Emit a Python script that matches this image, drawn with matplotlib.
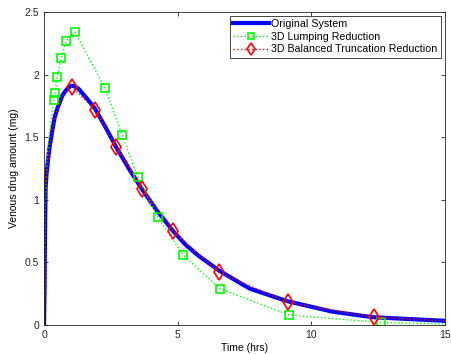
import matplotlib
matplotlib.use("Agg")
import matplotlib.pyplot as plt

plt.rcParams["font.family"] = ["Liberation Sans", "DejaVu Sans"]
plt.rcParams["font.size"] = 7.5

# original system (full model)
t_orig = [0, 0.02, 0.04, 0.06, 0.1, 0.15, 0.2, 0.27, 0.33, 0.4, 0.5, 0.59, 0.68,
          0.77, 0.88, 1.0, 1.1, 1.2, 1.3, 1.4, 1.6, 1.9, 2.3, 2.7, 3.2, 3.65,
          4.2, 4.83, 5.3, 5.8, 6.58, 7.7, 9.1, 10.8, 12.3, 15.0]
y_orig = [0, 0.3, 0.8, 1.1, 1.22, 1.32, 1.41, 1.50, 1.58, 1.66, 1.73, 1.78, 1.83,
          1.86, 1.89, 1.91, 1.91, 1.90, 1.885, 1.86, 1.81, 1.73, 1.58, 1.42,
          1.24, 1.09, 0.92, 0.75, 0.64, 0.55, 0.43, 0.29, 0.19, 0.106, 0.062,
          0.033]

# 3D lumping reduction (first points unmarked)
t_lump = [0, 0.02, 0.05, 0.12, 0.25, 0.37, 0.41, 0.49, 0.64, 0.82, 1.16, 2.28,
          2.92, 3.51, 4.26, 5.20, 6.58, 9.16, 12.6, 15.0]
y_lump = [0, 0.3, 0.95, 1.35, 1.62, 1.80, 1.85, 1.98, 2.13, 2.27, 2.34, 1.89,
          1.52, 1.18, 0.86, 0.56, 0.29, 0.08, 0.02, 0.008]
lump_marks = list(range(5, 19))

# 3D balanced truncation reduction
t_bt = [0, 0.02, 0.04, 0.06, 0.1, 0.15, 0.27, 0.4, 0.59, 0.77, 1.05, 1.91, 2.69,
        3.66, 4.82, 6.54, 9.12, 12.34, 15.0]
y_bt = [0, 0.3, 0.8, 1.1, 1.22, 1.32, 1.50, 1.66, 1.78, 1.86, 1.90, 1.72, 1.42,
        1.09, 0.75, 0.42, 0.18, 0.064, 0.033]
bt_marks = list(range(10, 18))

fig = plt.figure(figsize=(4.51, 3.54), dpi=100)
ax = fig.add_axes([0.0976, 0.082, 0.889, 0.884])

ax.plot(t_orig, y_orig, color="blue", lw=3, label="Original System")
ax.plot(t_lump, y_lump, color="#00ff00", ls=":", lw=1, marker="s", ms=6,
        mfc="none", mec="#00ff00", mew=1.2, markevery=lump_marks,
        label="3D Lumping Reduction")
ax.plot(t_bt, y_bt, color="red", ls=":", lw=1, marker="d", ms=8,
        mfc="none", mec="red", mew=1.2, markevery=bt_marks,
        label="3D Balanced Truncation Reduction")

ax.set_xlim(0, 15)
ax.set_ylim(0, 2.5)
ax.set_xticks([0, 5, 10, 15])
ax.set_yticks([0, 0.5, 1, 1.5, 2, 2.5])
ax.set_xticklabels(["0", "5", "10", "15"])
ax.set_yticklabels(["0", "0.5", "1", "1.5", "2", "2.5"])
ax.tick_params(direction="in", top=True, right=True, length=3, width=0.6,
               colors="#262626", labelsize=7.5)
for s in ax.spines.values():
    s.set_linewidth(0.6)
    s.set_color("#262626")

ax.set_xlabel("Time (hrs)", labelpad=2)
ax.set_ylabel("Venous drug amount (mg)", labelpad=4)

leg = ax.legend(loc="upper right", bbox_to_anchor=(1.0 - 0.01, 1.0 - 0.012),
                fancybox=False, framealpha=1, edgecolor="#262626",
                handlelength=3.4, handletextpad=0.2, borderpad=0.3,
                labelspacing=0.25, borderaxespad=0.0, fontsize=7.7,
                markerscale=0.8)
leg.get_frame().set_linewidth(0.6)

fig.savefig("out.png", dpi=100)
